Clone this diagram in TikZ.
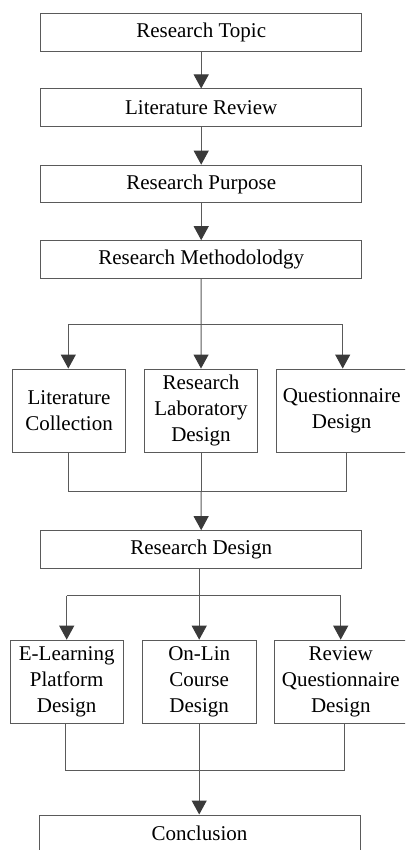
\documentclass[tikz,border=0pt]{standalone}
\usepackage{fontspec}
\setmainfont{Liberation Serif}
\usetikzlibrary{arrows.meta}
\definecolor{linec}{HTML}{5A5A5A}
\definecolor{headc}{HTML}{3A3A3A}
\tikzset{
  box/.style={draw=linec, line width=1pt, fill=white, inner sep=0pt, align=center,
    font=\fontsize{21}{26}\selectfont, text=black},
  wide/.style={box, minimum width=321pt, minimum height=37.7pt},
  tall/.style={box, minimum height=83.3pt},
  conn/.style={draw=linec, line width=1pt},
  arr/.style={conn, -{Triangle[width=15pt,length=14pt,color=headc,fill=headc]}}
}
\begin{document}
\begin{tikzpicture}[x=1pt,y=-1pt]
\useasboundingbox (0,0) rectangle (405,850);
\clip (0,0) rectangle (405,850);
\fill[white] (0,0) rectangle (405,850);
% nodes
\node[wide] (top) at (201.2,32.2) {Research Topic};
\node[wide] (lit) at (201.2,107.8) {Literature Review};
\node[wide] (pur) at (201.2,184) {Research Purpose};
\node[wide] (met) at (201.2,259.5) {Research Methodolodgy};
\node[tall, minimum width=113.4pt] (col) at (69,410.7) {Literature\\Collection};
\node[tall, minimum width=113.4pt] (lab) at (201,410.7) {Research\\Laboratory\\Design};
\node[tall, minimum width=130pt] (que) at (341.7,410.7) {Questionnaire\\Design};
\node[wide] (des) at (201.2,549.5) {Research Design};
\node[tall, minimum width=113.3pt] (ele) at (66.7,681.8) {E-Learning\\Platform\\Design};
\node[tall, minimum width=113.7pt] (onl) at (199.2,681.8) {On-Lin\\Course\\Design};
\node[tall, minimum width=133pt] (rev) at (340.8,681.8) {Review\\Questionnaire\\Design};
\node[wide, minimum width=321pt, minimum height=37pt] (con) at (199.5,833.5) {Conclusion};
% coordinates
\coordinate (b1l) at (68.3,324);
\coordinate (b1r) at (342.7,324);
\coordinate (m1l) at (68,491);
\coordinate (m1c) at (201,491);
\coordinate (m1r) at (346.7,491);
\coordinate (b2l) at (66.7,595.7);
\coordinate (b2r) at (340.7,595.7);
\coordinate (m2l) at (65.3,770);
\coordinate (m2c) at (199.2,770);
\coordinate (m2r) at (344.3,770);
% connectors
\draw[arr] (top.south) -- (lit.north);
\draw[arr] (lit.south) -- (pur.north);
\draw[arr] (pur.south) -- (met.north);
\draw[arr] (met.south) -- (lab.north);
\draw[conn] (b1l) -- (b1r);
\draw[arr] (b1l) -- (b1l |- col.north);
\draw[arr] (b1r) -- (b1r |- que.north);
\draw[conn] (m1l |- col.south) -- (m1l) -- (m1r) -- (m1r |- que.south);
\draw[conn] (lab.south) -- (m1c);
\draw[arr] (m1c) -- (des.north);
\draw[arr] (des.south -| onl.north) -- (onl.north);
\draw[conn] (b2l) -- (b2r);
\draw[arr] (b2l) -- (b2l |- ele.north);
\draw[arr] (b2r) -- (b2r |- rev.north);
\draw[conn] (m2l |- ele.south) -- (m2l) -- (m2r) -- (m2r |- rev.south);
\draw[conn] (onl.south) -- (m2c);
\draw[arr] (m2c) -- (m2c |- con.north);
\end{tikzpicture}
\end{document}
